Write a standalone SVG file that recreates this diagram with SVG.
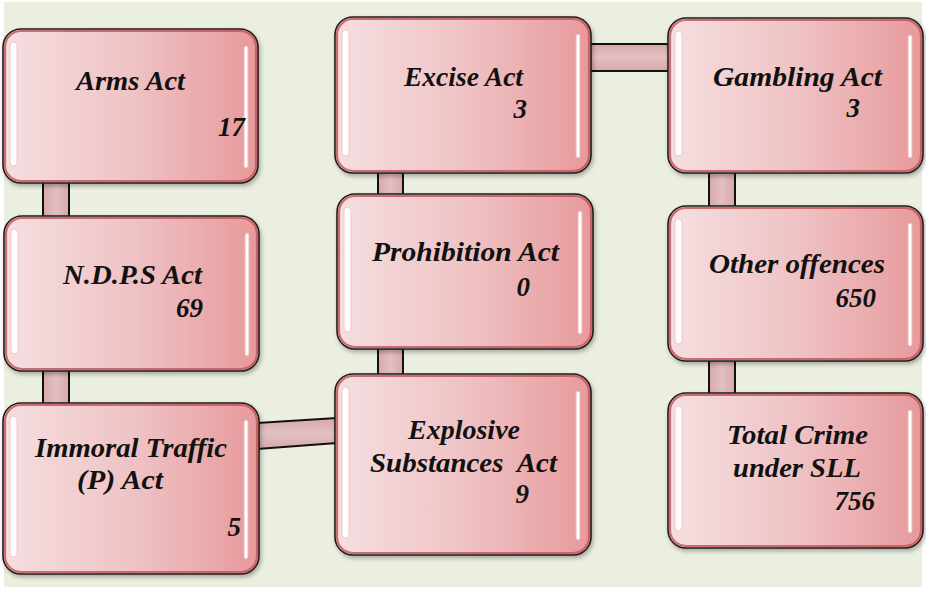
<svg xmlns="http://www.w3.org/2000/svg" width="926" height="589" viewBox="0 0 926 589">
<defs>
<linearGradient id="boxGrad" x1="0" y1="0" x2="1" y2="0">
<stop offset="0" stop-color="#f5dfe1"/>
<stop offset="0.5" stop-color="#efc3c5"/>
<stop offset="1" stop-color="#e7999b"/>
</linearGradient>
<linearGradient id="barV" x1="0" y1="0" x2="1" y2="0">
<stop offset="0" stop-color="#d9a8ab"/>
<stop offset="0.5" stop-color="#e2c0c2"/>
<stop offset="1" stop-color="#d9a8ab"/>
</linearGradient>
<linearGradient id="barH" x1="0" y1="0" x2="0" y2="1">
<stop offset="0" stop-color="#d9a8ab"/>
<stop offset="0.5" stop-color="#e2c0c2"/>
<stop offset="1" stop-color="#d9a8ab"/>
</linearGradient>
<filter id="shadow" x="-5%" y="-5%" width="115%" height="120%">
<feDropShadow dx="1.5" dy="2.5" stdDeviation="2" flood-color="#000" flood-opacity="0.3"/>
</filter>
</defs>
<style>
.box{fill:url(#boxGrad);stroke:#1c1c1c;stroke-width:1.6;filter:url(#shadow)}
.bevel{fill:none;stroke:#c4585a;stroke-width:2.2;opacity:0.85}
.hl{fill:#ffffff;stroke:#f2c6c8;stroke-width:1}
.hr{fill:#ffffff;stroke:#f0b4b6;stroke-width:1}
.edge{stroke:#111;stroke-width:2;fill:none}
.lbl{font-family:"Liberation Serif","Times New Roman",serif;font-style:italic;font-weight:bold;font-size:27px;fill:#111}
.num{text-anchor:end}
</style>
<rect x="0" y="0" width="926" height="589" fill="#ffffff"/>
<rect x="4" y="2" width="918" height="585" fill="#ebefdf"/>

<g id="connectors">
<rect x="43" y="183" width="26" height="33" fill="url(#barV)"/>
<line class="edge" x1="43" y1="183" x2="43" y2="216"/><line class="edge" x1="69" y1="183" x2="69" y2="216"/>
<rect x="43" y="371" width="26" height="32" fill="url(#barV)"/>
<line class="edge" x1="43" y1="371" x2="43" y2="403"/><line class="edge" x1="69" y1="371" x2="69" y2="403"/>
<rect x="378" y="172" width="25" height="23" fill="url(#barV)"/>
<line class="edge" x1="378" y1="172" x2="378" y2="195"/><line class="edge" x1="403" y1="172" x2="403" y2="195"/>
<rect x="378" y="349" width="25" height="26" fill="url(#barV)"/>
<line class="edge" x1="378" y1="349" x2="378" y2="375"/><line class="edge" x1="403" y1="349" x2="403" y2="375"/>
<rect x="709" y="172" width="26" height="34" fill="url(#barV)"/>
<line class="edge" x1="709" y1="172" x2="709" y2="206"/><line class="edge" x1="735" y1="172" x2="735" y2="206"/>
<rect x="709" y="361" width="26" height="32" fill="url(#barV)"/>
<line class="edge" x1="709" y1="361" x2="709" y2="393"/><line class="edge" x1="735" y1="361" x2="735" y2="393"/>
<rect x="590" y="44" width="79" height="27" fill="url(#barH)"/>
<line class="edge" x1="590" y1="44" x2="669" y2="44"/><line class="edge" x1="590" y1="71" x2="669" y2="71"/>
<polygon points="257,423 337,418 337,443 257,449" fill="url(#barH)"/>
<line class="edge" x1="257" y1="423" x2="337" y2="418"/><line class="edge" x1="257" y1="449" x2="337" y2="443"/>
</g>

<g id="node-arms">
<rect class="box" x="3" y="29" width="255" height="154" rx="18"/>
<rect class="bevel" x="5" y="31" width="251" height="150" rx="16"/>
<rect class="hl" x="10" y="42" width="7" height="124" rx="3.5"/>
<rect class="hr" x="244" y="46" width="4" height="122" rx="2"/>
<text class="lbl" x="76" y="90" textLength="109" lengthAdjust="spacingAndGlyphs">Arms Act</text>
<text class="lbl num" x="245" y="136">17</text>
</g>

<g id="node-ndps">
<rect class="box" x="4" y="216" width="255" height="155" rx="18"/>
<rect class="bevel" x="6" y="218" width="251" height="151" rx="16"/>
<rect class="hl" x="11" y="229" width="7" height="125" rx="3.5"/>
<rect class="hr" x="245" y="233" width="4" height="123" rx="2"/>
<text class="lbl" x="63" y="284" textLength="139" lengthAdjust="spacingAndGlyphs">N.D.P.S Act</text>
<text class="lbl num" x="203" y="317">69</text>
</g>

<g id="node-immoral">
<rect class="box" x="3" y="403" width="256" height="171" rx="18"/>
<rect class="bevel" x="5" y="405" width="252" height="167" rx="16"/>
<rect class="hl" x="10" y="416" width="7" height="141" rx="3.5"/>
<rect class="hr" x="244" y="420" width="4" height="139" rx="2"/>
<text class="lbl" x="35" y="457" textLength="192" lengthAdjust="spacingAndGlyphs">Immoral Traffic</text>
<text class="lbl" x="77" y="489" textLength="86" lengthAdjust="spacingAndGlyphs">(P) Act</text>
<text class="lbl num" x="241" y="536">5</text>
</g>

<g id="node-excise">
<rect class="box" x="335" y="17" width="256" height="156" rx="18"/>
<rect class="bevel" x="337" y="19" width="252" height="152" rx="16"/>
<rect class="hl" x="342" y="30" width="7" height="126" rx="3.5"/>
<rect class="hr" x="576" y="34" width="4" height="124" rx="2"/>
<text class="lbl" x="404" y="86" textLength="119" lengthAdjust="spacingAndGlyphs">Excise Act</text>
<text class="lbl num" x="527" y="118">3</text>
</g>

<g id="node-prohibition">
<rect class="box" x="337" y="194" width="256" height="155" rx="18"/>
<rect class="bevel" x="339" y="196" width="252" height="151" rx="16"/>
<rect class="hl" x="344" y="207" width="7" height="125" rx="3.5"/>
<rect class="hr" x="578" y="211" width="4" height="123" rx="2"/>
<text class="lbl" x="372" y="261" textLength="187" lengthAdjust="spacingAndGlyphs">Prohibition Act</text>
<text class="lbl num" x="530" y="296">0</text>
</g>

<g id="node-explosive">
<rect class="box" x="335" y="374" width="256" height="181" rx="18"/>
<rect class="bevel" x="337" y="376" width="252" height="177" rx="16"/>
<rect class="hl" x="342" y="387" width="7" height="151" rx="3.5"/>
<rect class="hr" x="576" y="391" width="4" height="149" rx="2"/>
<text class="lbl" x="408" y="439" textLength="112" lengthAdjust="spacingAndGlyphs">Explosive</text>
<text class="lbl" x="370" y="472" textLength="187" lengthAdjust="spacingAndGlyphs" xml:space="preserve">Substances  Act</text>
<text class="lbl num" x="529" y="503">9</text>
</g>

<g id="node-gambling">
<rect class="box" x="668" y="18" width="255" height="155" rx="18"/>
<rect class="bevel" x="670" y="20" width="251" height="151" rx="16"/>
<rect class="hl" x="675" y="31" width="7" height="125" rx="3.5"/>
<rect class="hr" x="908" y="35" width="4" height="123" rx="2"/>
<text class="lbl" x="713" y="86" textLength="169" lengthAdjust="spacingAndGlyphs">Gambling Act</text>
<text class="lbl num" x="860" y="117">3</text>
</g>

<g id="node-other">
<rect class="box" x="668" y="206" width="255" height="155" rx="18"/>
<rect class="bevel" x="670" y="208" width="251" height="151" rx="16"/>
<rect class="hl" x="675" y="219" width="7" height="125" rx="3.5"/>
<rect class="hr" x="908" y="223" width="4" height="123" rx="2"/>
<text class="lbl" x="709" y="273" textLength="176" lengthAdjust="spacingAndGlyphs">Other offences</text>
<text class="lbl num" x="876" y="307">650</text>
</g>

<g id="node-total">
<rect class="box" x="668" y="393" width="255" height="155" rx="18"/>
<rect class="bevel" x="670" y="395" width="251" height="151" rx="16"/>
<rect class="hl" x="675" y="406" width="7" height="125" rx="3.5"/>
<rect class="hr" x="908" y="410" width="4" height="123" rx="2"/>
<text class="lbl" x="727" y="444" textLength="141" lengthAdjust="spacingAndGlyphs">Total Crime</text>
<text class="lbl" x="733" y="477" textLength="128" lengthAdjust="spacingAndGlyphs">under SLL</text>
<text class="lbl num" x="875" y="510">756</text>
</g>
</svg>
